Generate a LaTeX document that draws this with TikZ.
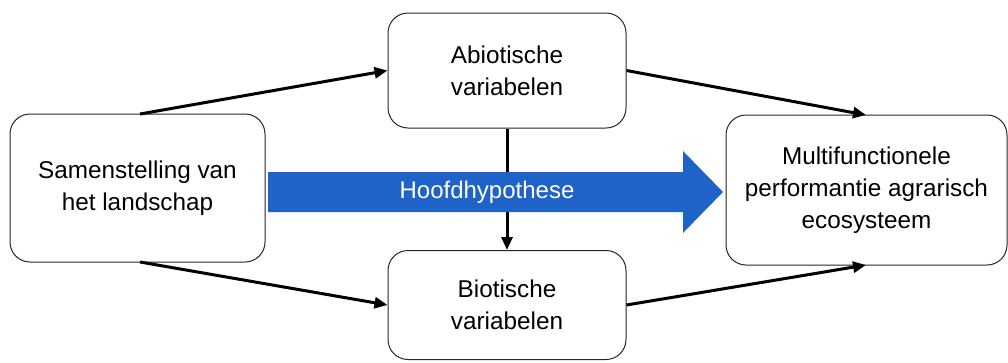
\documentclass[tikz,border=0pt]{standalone}
\usepackage{fontspec}
\setmainfont{Liberation Sans}
\usetikzlibrary{arrows.meta}
\definecolor{hypblue}{RGB}{31,98,200}
\begin{document}
\begin{tikzpicture}[x=1pt,y=-1pt,
  box/.style={draw=black!85, line width=1pt, rounded corners=20pt, align=center, inner sep=0pt,
     font=\fontsize{24.3}{32}\selectfont},
  conn/.style={line width=3pt, -{Triangle[length=13pt,width=11pt]}}]
\useasboundingbox (0,0) rectangle (1008,362);
\node[box, minimum width=255pt, minimum height=148pt] (land) at (137.5,188) {Samenstelling van\\het landschap};
\node[box, minimum width=238pt, minimum height=115pt] (abio) at (507,70.5) {Abiotische\\variabelen};
\node[box, minimum width=238pt, minimum height=109pt] (bio) at (507,305) {Biotische\\variabelen};
\node[box, minimum width=281pt, minimum height=150pt] (multi) at (866.5,190) {Multifunctionele\\performantie agrarisch\\ecosysteem};
% connectors
\coordinate (lt) at (140,114);
\coordinate (lb) at (140,262);
\draw[conn] (lt) -- (abio.west);
\draw[conn] (lb) -- (bio.west);
\draw[conn] (abio.east) -- (866,115);
\draw[conn] (bio.east) -- (866,265);
\draw[conn] (abio.south) -- (bio.north);
% blue hypothesis arrow
\fill[hypblue] (268,172) -- (683,172) -- (683,151) -- (723,192) -- (683,233) -- (683,212) -- (268,212) -- cycle;
\node[text=white, font=\fontsize{24}{28}\selectfont] (hyp) at (487,192) {Hoofdhypothese};
\end{tikzpicture}
\end{document}
